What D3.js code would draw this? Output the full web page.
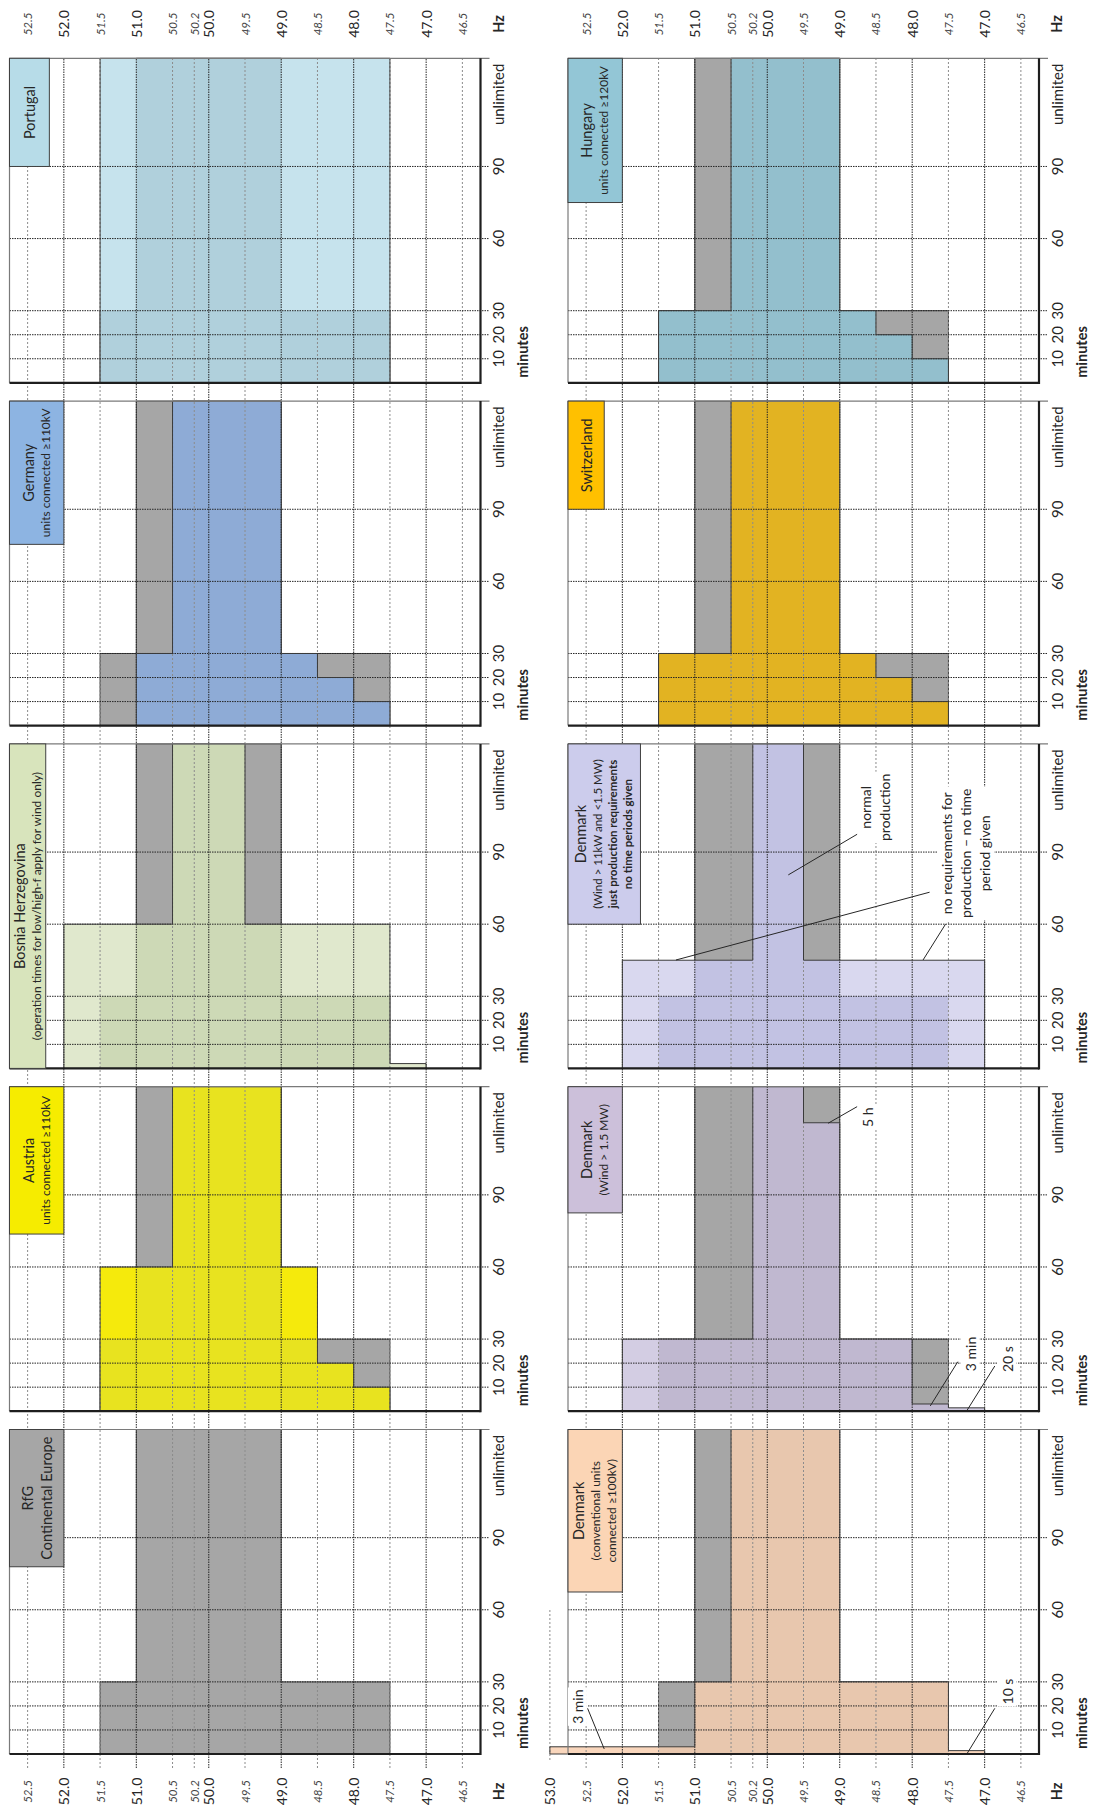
<!DOCTYPE html>
<html lang="en">
<head>
<meta charset="UTF-8">
<title>Frequency ranges and minimum operation times</title>
<script src="https://d3js.org/d3.v7.min.js"></script>
<style>
  body { margin: 0; background: #fff; }
  svg { display: block; font-family: Lato, "Open Sans", sans-serif; }
</style>
</head>
<body>
<div id="chart"></div>
<script>
// ---------- data (Hz bands per duration: [from min, to min, upper Hz, lower Hz]) ----------
const hzMajor = [52.0, 51.0, 50.0, 49.0, 48.0, 47.0];
const hzMinor = [52.5, 51.5, 50.5, 50.2, 49.5, 48.5, 47.5, 46.5];
const hzExtra = 53.0;            // only on the Danish conventional units chart
const minuteTicks = [10, 20, 30, 60, 90];
const unlimitedAt = 120;

const rfgSteps = [[0, 30, 51.5, 47.5], [30, 135, 51.0, 49.0]];
const austriaSteps = [[0, 10, 51.5, 47.5], [10, 20, 51.5, 48.0], [20, 60, 51.5, 48.5], [60, 135, 50.5, 49.0]];
const bosniaSteps = [[0, 2, 52.0, 47.0], [2, 60, 52.0, 47.5], [60, 135, 50.5, 49.5]];
const germanySteps = [[0, 10, 51.0, 47.5], [10, 20, 51.0, 48.0], [20, 30, 51.0, 48.5], [30, 135, 50.5, 49.0]];
const portugalSteps = [[0, 135, 51.5, 47.5]];
const dkConvSteps = [[0, 1.4, 53.0, 47.0], [1.4, 3, 53.0, 47.5], [3, 30, 51.0, 47.5], [30, 135, 50.5, 49.0]];
const dkWindSteps = [[0, 1.4, 52.0, 47.0], [1.4, 3, 52.0, 47.5], [3, 30, 52.0, 48.0], [30, 120, 50.2, 49.0], [120, 135, 50.2, 49.5]];
const dkSmallSteps = [[0, 45, 52.0, 47.0], [45, 135, 50.2, 49.5]];
const swissSteps = [[0, 10, 51.5, 47.5], [10, 20, 51.5, 48.0], [20, 30, 51.5, 48.5], [30, 135, 50.5, 49.0]];
const hungarySteps = [[0, 10, 51.5, 47.5], [10, 20, 51.5, 48.0], [20, 30, 51.5, 48.5], [30, 135, 50.5, 49.0]];

const countrySteps = [null, austriaSteps, bosniaSteps, germanySteps, portugalSteps,
                      dkConvSteps, dkWindSteps, dkSmallSteps, swissSteps, hungarySteps];

const titleLines = [
  ["RfG", "Continental Europe"],
  ["Austria", "units connected ≥110kV"],
  ["Bosnia Herzegovina", "(operation times for low/high-f apply for wind only)"],
  ["Germany", "units connected ≥110kV"],
  ["Portugal"],
  ["Denmark", "(conventional units", "connected ≥100kV)"],
  ["Denmark", "(Wind > 1.5 MW)"],
  ["Denmark", "(Wind > 11kW and <1.5 MW)", "just production requirements", "no time periods given"],
  ["Switzerland"],
  ["Hungary", "units connected ≥120kV"]
];
// label box extent: from this minute up to the end, from top of chart down to this Hz
const boxFrom = [77.9, 73.7, 0, 75.4, 90, 67.4, 82.5, 60, 90, 75];
const boxLow = [52.0, 52.0, 52.25, 52.0, 52.2, 52.0, 52.0, 51.75, 52.25, 52.0];

// annotations: [chart, minute, Hz, lines] and leaders [chart, min1, hz1, min2, hz2]
const notes = [
  [5, 19.7, 52.62, ["3 min"]],
  [5, 26, 46.69, ["10 s"]],
  [6, 122.3, 48.61, ["5 h"]],
  [6, 23.8, 47.2, ["3 min"]],
  [6, 21.7, 46.69, ["20 s"]],
  [7, 108.6, 48.51, ["normal", "production"]],
  [7, 89.5, 47.26, ["no requirements for", "production – no time", "period given"]]
];
const leaders = [
  [5, 2.1, 52.25, 19.0, 52.48],
  [5, 0.3, 47.24, 19.0, 46.86],
  [6, 119.8, 49.16, 126.7, 48.76],
  [6, 2.2, 47.75, 20.6, 47.37],
  [6, 0.5, 47.24, 18.8, 46.86],
  [7, 80.5, 49.71, 97.4, 48.76],
  [7, 45.1, 51.26, 73.3, 47.76],
  [7, 45.1, 47.85, 60, 47.54]
];

// ---------- styles ----------
const rfgGray = "#a6a6a6";
const fillColor = [null, "#f5ea0c", "#e0e8cd", "#8db4e2", "#c6e3ed", "#f9d6bc", "#d3cde3", "#d9d8ef", "#ffc000", "#93c4d5"];
const overColor = [null, "#e8e31f", "#cdd9b6", "#8eabd6", "#b0d0dc", "#e8c7ae", "#c0b8d0", "#c2c2e3", "#e2b322", "#93bfcd"];
const boxColor = ["#a6a6a6", "#f6ec00", "#d8e4bc", "#8db4e2", "#b7dce8", "#fbd5b5", "#ccc0da", "#ccccec", "#ffc000", "#93c6d6"];
const subSize = [14.5, 12, 12, 12, 12, 12, 12, 11.5, 12, 12];
const boldLines = { 7: [2, 3] };
const ink = "#262626";

// ---------- layout (figure drawn landscape, then turned a quarter left) ----------
const width = 1093, height = 1816;
const chartX0 = 62, chartPitch = 342.8, chartW = 324.5;
const rowY = [[9.5, 480.5], [568, 1039]];
const hzDomain = [52.75, 46.25];
const minDomain = [0, 135];
const gridStart = 48, gridEnd = chartX0 + 4 * chartPitch + chartW;

const svg = d3.select("#chart").append("svg")
    .attr("width", width)
    .attr("height", height);
svg.append("rect").attr("width", width).attr("height", height).attr("fill", "#fff");
const defs = svg.append("defs");
const fig = svg.append("g").attr("transform", `translate(0,${height}) rotate(-90)`);

const layerFill = fig.append("g");
const layerGrid = fig.append("g");
const layerLines = fig.append("g");
const layerTop = fig.append("g");

const charts = countrySteps.map((steps, i) => {
  const row = Math.floor(i / 5), col = i % 5;
  const left = chartX0 + col * chartPitch;
  return {
    i, row, steps,
    x: d3.scaleLinear().domain(minDomain).range([left, left + chartW]),
    y: d3.scaleLinear().domain(hzDomain).range(rowY[row])
  };
});

function pathFor(c, steps) {
  const top = steps.flatMap(s => [[s[0], s[2]], [s[1], s[2]]]);
  const bottom = steps.slice().reverse().flatMap(s => [[s[1], s[3]], [s[0], s[3]]]);
  return d3.line().x(d => c.x(d[0])).y(d => c.y(d[1]))(top.concat(bottom)) + "Z";
}

// fills
charts.forEach(c => {
  const rfgPath = pathFor(c, rfgSteps);
  layerFill.append("path").attr("d", rfgPath)
      .attr("fill", rfgGray).attr("stroke", "#404040").attr("stroke-width", 1);
  if (c.steps) {
    const cp = pathFor(c, c.steps);
    layerFill.append("path").attr("d", cp).attr("fill", fillColor[c.i]);
    defs.append("clipPath").attr("id", "clip" + c.i).append("path").attr("d", cp);
    layerFill.append("path").attr("d", rfgPath)
        .attr("fill", overColor[c.i]).attr("clip-path", `url(#clip${c.i})`);
    layerLines.append("path").attr("d", cp)
        .attr("fill", "none").attr("stroke", "#3a3a3a").attr("stroke-width", 1);
  }
});

// frequency gridlines run through the whole row
[0, 1].forEach(row => {
  const y = d3.scaleLinear().domain(hzDomain).range(rowY[row]);
  layerGrid.append("g").selectAll("line").data(hzMinor).join("line")
      .attr("x1", gridStart).attr("x2", gridEnd)
      .attr("y1", d => y(d)).attr("y2", d => y(d))
      .attr("stroke", "#8c8c8c").attr("stroke-width", 1).attr("stroke-dasharray", "2 2");
  layerGrid.append("g").selectAll("line").data(hzMajor).join("line")
      .attr("x1", gridStart).attr("x2", gridEnd)
      .attr("y1", d => y(d)).attr("y2", d => y(d))
      .attr("stroke", ink).attr("stroke-width", 1).attr("stroke-dasharray", "1.5 1");
});
// the 53.0 line only on the first chart of the second row
{
  const c = charts[5];
  layerGrid.append("line")
      .attr("x1", c.x(0) - 6).attr("x2", c.x(60))
      .attr("y1", c.y(hzExtra)).attr("y2", c.y(hzExtra))
      .attr("stroke", "#8c8c8c").attr("stroke-dasharray", "2 2");
}

// per chart: minute gridlines, frame, axes, labels
charts.forEach(c => {
  const [yTop, yBot] = rowY[c.row];
  layerGrid.append("g").selectAll("line").data(minuteTicks).join("line")
      .attr("x1", d => c.x(d)).attr("x2", d => c.x(d))
      .attr("y1", yTop).attr("y2", yBot + 9)
      .attr("stroke", ink).attr("stroke-width", 1).attr("stroke-dasharray", "1.5 1");

  // frame
  layerLines.append("line").attr("x1", c.x(0)).attr("x2", c.x(135)).attr("y1", yTop).attr("y2", yTop)
      .attr("stroke", "#7a7a7a").attr("stroke-width", 1.2);
  layerLines.append("line").attr("x1", c.x(135)).attr("x2", c.x(135)).attr("y1", yTop).attr("y2", yBot + 9)
      .attr("stroke", "#7a7a7a").attr("stroke-width", 1.2);
  layerLines.append("line").attr("x1", c.x(0)).attr("x2", c.x(0)).attr("y1", yTop).attr("y2", yBot)
      .attr("stroke", "#1e1e1e").attr("stroke-width", 2.2);
  layerLines.append("line").attr("x1", c.x(0) - 1.1).attr("x2", c.x(135)).attr("y1", yBot).attr("y2", yBot)
      .attr("stroke", "#1e1e1e").attr("stroke-width", 2.2);

  // minute tick labels
  layerTop.append("g").selectAll("text").data(minuteTicks.concat([unlimitedAt])).join("text")
      .attr("x", d => c.x(d)).attr("y", yBot + 17.5)
      .attr("text-anchor", "middle").attr("dominant-baseline", "central")
      .attr("font-size", 15).attr("fill", ink)
      .text(d => d === unlimitedAt ? "unlimited" : d);
  layerTop.append("text")
      .attr("x", c.x(12.8)).attr("y", yBot + 42)
      .attr("text-anchor", "middle").attr("dominant-baseline", "central")
      .attr("font-size", 14.5).attr("font-weight", "bold").attr("fill", ink)
      .text("minutes");

  // label box
  const bx0 = c.x(boxFrom[c.i]), bx1 = c.x(135), by0 = c.y(52.75), by1 = c.y(boxLow[c.i]);
  layerTop.append("rect")
      .attr("x", bx0).attr("y", by0).attr("width", bx1 - bx0).attr("height", by1 - by0)
      .attr("fill", boxColor[c.i]).attr("stroke", "#404040").attr("stroke-width", 1);
  const lines = titleLines[c.i];
  const sizes = lines.map((s, k) => k === 0 ? 14.5 : subSize[c.i]);
  const gaps = sizes.slice(1).map((s, k) => 1.3 * (s + sizes[k]) / 2);
  const total = d3.sum(gaps);
  let yy = (by0 + by1) / 2 - total / 2;
  lines.forEach((s, k) => {
    if (k > 0) yy += gaps[k - 1];
    layerTop.append("text")
        .attr("x", (bx0 + bx1) / 2).attr("y", yy)
        .attr("text-anchor", "middle").attr("dominant-baseline", "central")
        .attr("font-size", sizes[k])
        .attr("font-weight", (boldLines[c.i] || []).includes(k) ? "bold" : null)
        .attr("fill", ink)
        .text(s);
  });
});

// frequency labels on both ends of each row
const labelX = [24.5, 1792];
[0, 1].forEach(row => {
  const y = d3.scaleLinear().domain(hzDomain).range(rowY[row]);
  labelX.forEach((lx, side) => {
    const g = layerTop.append("g");
    const majors = (row === 1 && side === 0) ? [hzExtra].concat(hzMajor) : hzMajor;
    g.selectAll("text.maj").data(majors).join("text")
        .attr("x", lx).attr("y", d => y(d))
        .attr("text-anchor", "middle").attr("dominant-baseline", "central")
        .attr("font-size", 14).attr("fill", ink)
        .text(d3.format(".1f"));
    g.selectAll("text.min").data(hzMinor).join("text")
        .attr("x", lx).attr("y", d => y(d))
        .attr("text-anchor", "middle").attr("dominant-baseline", "central")
        .attr("font-size", 11.5).attr("font-style", "italic").attr("fill", "#444")
        .text(d3.format(".1f"));
    g.append("text")
        .attr("x", lx).attr("y", rowY[row][1] + 17.5)
        .attr("text-anchor", "middle").attr("dominant-baseline", "central")
        .attr("font-size", 14.5).attr("font-weight", "bold").attr("fill", ink)
        .text("Hz");
  });
});

// annotations
notes.forEach(([ci, m, hz, lines]) => {
  const c = charts[ci];
  const lh = 19;
  const g = layerTop.append("g");
  const t = g.append("text")
      .attr("text-anchor", "middle").attr("font-size", 14).attr("fill", ink);
  lines.forEach((s, k) => {
    t.append("tspan")
        .attr("x", c.x(m))
        .attr("y", c.y(hz) + (k - (lines.length - 1) / 2) * lh)
        .attr("dominant-baseline", "central")
        .text(s);
  });
  const bb = t.node().getBBox();
  g.insert("rect", "text")
      .attr("x", bb.x - 2).attr("y", bb.y - 1).attr("width", bb.width + 4).attr("height", bb.height + 2)
      .attr("fill", "#fff");
});
leaders.forEach(([ci, m1, h1, m2, h2]) => {
  const c = charts[ci];
  layerTop.append("line")
      .attr("x1", c.x(m1)).attr("y1", c.y(h1)).attr("x2", c.x(m2)).attr("y2", c.y(h2))
      .attr("stroke", ink).attr("stroke-width", 1);
});
</script>
</body>
</html>
